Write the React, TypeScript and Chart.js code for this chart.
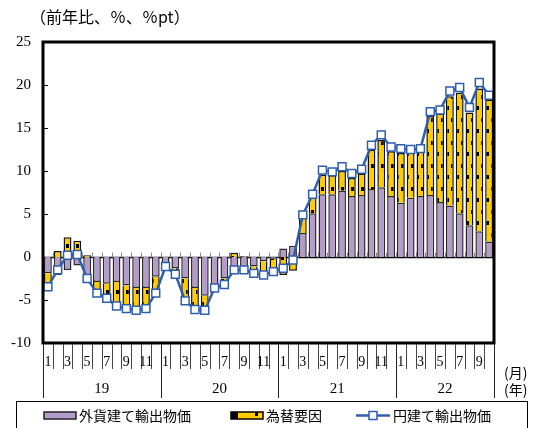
import React, { useEffect, useRef } from 'react';
import { Chart, registerables } from 'chart.js';

Chart.register(...registerables);

// ---- data ----
const monthLabels = [
  '1', '2', '3', '4', '5', '6', '7', '8', '9', '10', '11', '12',
  '1', '2', '3', '4', '5', '6', '7', '8', '9', '10', '11', '12',
  '1', '2', '3', '4', '5', '6', '7', '8', '9', '10', '11', '12',
  '1', '2', '3', '4', '5', '6', '7', '8', '9', '10',
];
const yearLabels = ['19', '20', '21', '22'];
const monthsPerYear = [12, 12, 12, 10];

// 外貨建て輸出物価
const foreignCurrency = [
  -1.9, -2.1, -1.5, -1.0, -2.9, -2.9, -3.1, -2.9, -3.3, -3.6, -3.6, -2.3,
  -0.8, -1.3, -2.5, -3.6, -4.5, -3.3, -2.5, -2.0, -1.5, -1.1, -0.5, -0.2,
  1.0, 1.3, 2.8, 5.1, 7.3, 7.3, 7.7, 7.1, 7.2, 7.9, 8.1, 7.1,
  6.3, 6.9, 7.1, 7.2, 6.4, 6.0, 5.1, 3.7, 3.0, 1.8,
];
// 為替要因
const fxFactor = [
  -1.4, 0.7, 2.3, 1.9, 0.2, -1.1, -1.5, -2.6, -2.5, -2.4, -2.2, -1.7,
  -0.2, -0.6, -2.4, -2.3, -1.6, -0.2, -0.6, 0.5, 0.1, -0.7, -1.5, -1.4,
  -2.1, -1.6, 1.8, 1.9, 2.3, 2.2, 2.3, 2.1, 2.5, 4.6, 5.5, 5.2,
  5.8, 5.4, 5.2, 9.2, 10.3, 12.7, 14.0, 13.1, 16.6, 16.5,
];
// 円建て輸出物価
const yenBased = [
  -3.45, -1.5, 0.2, 0.3, -2.5, -4.2, -4.8, -5.7, -6.0, -6.2, -6.0, -4.2,
  -1.1, -2.0, -5.1, -6.1, -6.2, -3.6, -3.2, -1.5, -1.5, -1.9, -2.1, -1.7,
  -1.3, -0.35, 4.9, 7.3, 10.1, 9.9, 10.5, 9.7, 10.2, 13.0, 14.2, 12.8,
  12.6, 12.5, 12.6, 16.9, 17.1, 19.3, 19.7, 17.4, 20.3, 18.8,
];
const yTicks = [25, 20, 15, 10, 5, 0, -5, -10];

const seriesNames = ['外貨建て輸出物価', '為替要因', '円建て輸出物価'];
const titleText = '（前年比、％、％pt）';

// ---- styles ----
const PURPLE = '#B49CCA';
const YELLOW = '#FFCC00';
const BLUE = '#2F5EAD';
const NUM_FONT = '15px "Liberation Serif", "Times New Roman", serif';
const MONTH_FONT = '14px "Liberation Serif", "Times New Roman", serif';
const JP_FONT = '14px "Noto Sans CJK JP", "Noto Sans", sans-serif';
const TITLE_FONT = '16px "Noto Sans CJK JP", "Noto Sans", sans-serif';

function makePattern(): CanvasPattern | string {
  const c = document.createElement('canvas');
  c.width = 10;
  c.height = 23;
  const ctx = c.getContext('2d');
  if (!ctx) return YELLOW;
  ctx.fillStyle = YELLOW;
  ctx.fillRect(0, 0, 10, 23);
  ctx.fillStyle = '#000';
  ctx.fillRect(1, 3, 3, 4);
  ctx.fillRect(6, 14, 3, 4);
  return ctx.createPattern(c, 'repeat') || YELLOW;
}

function line(ctx: CanvasRenderingContext2D, x1: number, y1: number, x2: number, y2: number) {
  ctx.beginPath();
  ctx.moveTo(x1, y1);
  ctx.lineTo(x2, y2);
  ctx.stroke();
}

const axesPlugin = {
  id: 'customAxes',
  beforeDatasetsDraw(chart: any) {
    const { ctx, chartArea: a, scales } = chart;
    const x = scales.x;
    const y = scales.y;
    const y0 = Math.round(y.getPixelForValue(0)) + 0.5;
    const step = x.getPixelForValue(1) - x.getPixelForValue(0);
    ctx.save();
    ctx.strokeStyle = '#000';
    ctx.lineWidth = 1.5;
    line(ctx, a.left, y0, a.right, y0);
    ctx.strokeStyle = '#8a8a8a';
    ctx.lineWidth = 1;
    for (let i = 1; i < monthLabels.length; i++) {
      const px = Math.round(x.getPixelForValue(i) - step / 2) + 0.5;
      line(ctx, px, y0, px, y0 - 5);
    }
    ctx.restore();
  },
  afterDraw(chart: any) {
    const { ctx, chartArea: a, scales } = chart;
    const x = scales.x;
    const y = scales.y;
    const step = x.getPixelForValue(1) - x.getPixelForValue(0);
    ctx.save();

    // frame
    ctx.strokeStyle = '#000';
    ctx.lineWidth = 3;
    ctx.strokeRect(a.left, a.top, a.right - a.left, a.bottom - a.top);

    // y ticks & labels
    ctx.lineWidth = 1;
    ctx.font = NUM_FONT;
    ctx.fillStyle = '#000';
    ctx.textAlign = 'right';
    ctx.textBaseline = 'middle';
    yTicks.forEach((v) => {
      const py = y.getPixelForValue(v);
      ctx.fillText(String(v), 31, py);
      if (v !== 25 && v !== -10 && v !== 0) {
        line(ctx, a.left, Math.round(py) + 0.5, a.left + 5, Math.round(py) + 0.5);
      }
    });

    // month ticks
    ctx.strokeStyle = '#444';
    ctx.lineWidth = 1;
    for (let i = 0; i <= monthLabels.length; i++) {
      const px = Math.round(x.getPixelForValue(i) - step / 2) + 0.5;
      line(ctx, px, a.bottom + 1, px, a.bottom + 26);
    }
    // month labels
    ctx.font = MONTH_FONT;
    ctx.textAlign = 'center';
    ctx.textBaseline = 'middle';
    monthLabels.forEach((m, i) => {
      if (Number(m) % 2 === 1) {
        ctx.fillText(m, x.getPixelForValue(i), a.bottom + 19);
      }
    });

    // year separators & labels
    ctx.strokeStyle = '#222';
    let idx = 0;
    const bounds: number[] = [idx];
    monthsPerYear.forEach((n) => {
      idx += n;
      bounds.push(idx);
    });
    bounds.forEach((b) => {
      const px = Math.round(x.getPixelForValue(b) - step / 2) + 0.5;
      line(ctx, px, a.bottom + 1, px, a.bottom + 55);
    });
    ctx.font = NUM_FONT;
    yearLabels.forEach((yl, k) => {
      const s = x.getPixelForValue(bounds[k]) - step / 2;
      const e = x.getPixelForValue(bounds[k + 1]) - step / 2;
      ctx.fillText(yl, (s + e) / 2, a.bottom + 46);
    });

    // unit labels
    ctx.font = JP_FONT;
    ctx.textAlign = 'left';
    ctx.fillText('(月)', 504, a.bottom + 30);
    ctx.fillText('(年)', 504, a.bottom + 47);

    // title
    ctx.font = TITLE_FONT;
    ctx.fillText(titleText, 30, 17);

    // legend box
    ctx.strokeStyle = '#000';
    ctx.lineWidth = 1;
    ctx.strokeRect(16.5, 401.5, 511, 30);
    const ly = 415.5;
    // purple item
    ctx.fillStyle = PURPLE;
    ctx.fillRect(44, ly - 3.5, 32, 7);
    ctx.strokeStyle = '#222';
    ctx.lineWidth = 1.5;
    ctx.strokeRect(44, ly - 3.5, 32, 7);
    ctx.fillStyle = '#000';
    ctx.font = JP_FONT;
    ctx.fillText(seriesNames[0], 79, ly);
    // yellow item
    ctx.fillStyle = YELLOW;
    ctx.fillRect(231, ly - 3.5, 32, 7);
    ctx.fillStyle = '#000';
    ctx.fillRect(231, ly - 3.5, 7, 7);
    ctx.fillRect(255, ly - 3.5, 3, 4);
    ctx.strokeStyle = '#000';
    ctx.lineWidth = 1.5;
    ctx.strokeRect(231, ly - 3.5, 32, 7);
    ctx.fillStyle = '#000';
    ctx.fillText(seriesNames[1], 266, ly);
    // line item
    ctx.strokeStyle = BLUE;
    ctx.lineWidth = 2.5;
    line(ctx, 356, ly, 390, ly);
    ctx.fillStyle = '#fff';
    ctx.lineWidth = 1.5;
    ctx.fillRect(369, ly - 4, 8, 8);
    ctx.strokeRect(369, ly - 4, 8, 8);
    ctx.fillStyle = '#000';
    ctx.fillText(seriesNames[2], 393, ly);

    ctx.restore();
  },
};

export default function App() {
  const ref = useRef<HTMLCanvasElement>(null);

  useEffect(() => {
    const canvas = ref.current;
    if (!canvas) return;
    const pattern = makePattern();
    const chart = new Chart(canvas, {
      type: 'bar',
      data: {
        labels: monthLabels.map((m, i) => `${i}-${m}`),
        datasets: [
          {
            type: 'line',
            label: seriesNames[2],
            data: yenBased,
            borderColor: BLUE,
            borderWidth: 2.5,
            pointStyle: 'rect',
            pointRadius: 5.6,
            pointBackgroundColor: '#ffffff',
            pointBorderColor: BLUE,
            pointBorderWidth: 1.5,
            tension: 0,
            order: 0,
            stack: 'yen',
          } as any,
          {
            type: 'bar',
            label: seriesNames[0],
            data: foreignCurrency,
            backgroundColor: PURPLE,
            borderColor: '#2a2a2a',
            borderWidth: 1.5,
            stack: 'bars',
            order: 1,
          },
          {
            type: 'bar',
            label: seriesNames[1],
            data: fxFactor,
            backgroundColor: pattern as any,
            borderColor: '#111',
            borderWidth: 1.5,
            stack: 'bars',
            order: 1,
          },
        ],
      },
      options: {
        responsive: false,
        animation: false,
        devicePixelRatio: 1,
        layout: { padding: { left: 43, top: 42, right: 46, bottom: 85 } },
        plugins: { legend: { display: false }, tooltip: { enabled: false } },
        datasets: { bar: { barPercentage: 0.8, categoryPercentage: 1 } },
        scales: {
          x: { display: false, stacked: true, offset: true },
          y: { display: false, stacked: true, min: -10, max: 25 },
        },
      } as any,
      plugins: [axesPlugin],
    });
    return () => chart.destroy();
  }, []);

  return (
    <div style={{ position: 'absolute', left: 0, top: 0, width: 540, height: 428, background: '#fff' }}>
      <canvas ref={ref} width={540} height={428} />
    </div>
  );
}
